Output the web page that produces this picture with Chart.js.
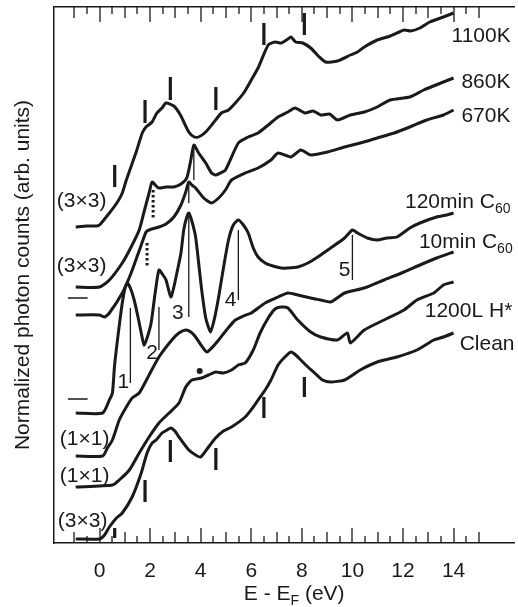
<!DOCTYPE html>
<html>
<head>
<meta charset="utf-8">
<script src="https://cdn.jsdelivr.net/npm/chart.js@4.4.0/dist/chart.umd.min.js"></script>
<style>
  html, body { margin: 0; padding: 0; background: #fff; }
  #wrap { width: 518px; height: 607px; position: relative; }
</style>
</head>
<body>
<div id="wrap"><canvas id="spectraChart"></canvas></div>
<script>
// energies (eV, relative to E_F) and normalized counts (arb. units, stacked)
const e1100K = [-0.94,-0.5,-0.12,0,0.39,0.71,0.9,1.06,1.45,1.69,1.84,2.08,2.27,2.47,2.63,2.94,3.2,3.53,3.75,3.92,4.2,4.5,4.82,5.1,5.37,5.7,6.0,6.27,6.67,6.94,7.18,7.45,7.57,7.76,8.04,8.35,8.65,8.94,9.41,9.92,10.2,10.47,10.98,11.5,12.04,12.3,12.67,13.06,13.6,14.0];
const c1100K = [316,317,317,318,330,341,350,363,391,410,416,421,430,435,440,437,428,411,406,406,411,420,430,433,440,450,463,475,498,501,500,504,506,501,500,495,487,481,482,488,491,496,503,507,513,512,515,521,526,530];

const e860K = [-0.94,0,0.39,0.9,1.25,1.57,1.76,1.96,2.08,2.24,2.35,2.63,2.94,3.22,3.45,3.61,3.73,3.92,4.2,4.43,4.59,4.78,4.98,5.49,5.88,6.27,6.67,7.06,7.45,7.73,8.12,8.45,8.75,9.1,9.41,9.92,10.47,10.98,11.49,12.27,12.82,13.6,14.0];
const c860K = [256,256,263,280,296,313,331,350,361,357,355,356,356,359,365,383,398,390,380,370,368,370,373,400,406,410,418,426,431,435,430,432,428,429,423,428,431,436,443,446,453,461,465];

const e670K = [-0.94,0,0.2,0.39,0.9,1.25,1.65,1.84,1.96,2.35,2.63,2.94,3.22,3.41,3.53,3.65,3.8,4.12,4.43,4.71,4.98,5.22,5.76,6.27,6.78,7.06,7.57,7.96,8.35,9.02,9.69,10.31,10.98,11.65,12.27,12.94,13.6,14.0];
const c670K = [228,228,226,230,250,270,298,311,313,316,319,326,338,351,361,358,355,345,340,345,353,363,370,375,383,390,386,393,388,391,396,400,405,410,416,423,428,433];

const e120min = [-0.94,0.12,0.39,0.51,0.59,0.71,0.9,1.02,1.1,1.22,1.37,1.53,1.65,1.76,1.88,2.04,2.2,2.35,2.51,2.63,2.82,2.94,3.06,3.22,3.33,3.45,3.53,3.65,3.8,3.92,4.04,4.2,4.39,4.55,4.71,4.9,5.1,5.29,5.49,5.69,5.88,6.08,6.27,6.55,6.86,7.18,7.45,7.84,8.24,8.63,9.14,9.69,10.0,10.2,10.59,10.98,11.37,11.76,12.27,12.67,13.33,13.73,14.0];
const c120min = [130,130,143,150,176,203,240,256,260,255,243,225,210,198,205,220,250,273,268,263,246,256,270,290,313,326,330,322,306,280,253,225,211,225,246,275,303,318,323,318,310,295,286,280,277,275,275,276,280,286,295,305,313,310,305,303,305,306,315,320,326,328,330];

const e10min = [-0.94,0.12,0.31,0.51,0.78,1.06,1.29,1.57,1.96,2.35,2.86,3.14,3.41,3.61,3.8,4.04,4.24,4.47,4.71,5.02,5.37,5.69,6.0,6.55,7.06,7.45,7.84,8.35,8.75,9.14,9.69,10.47,11.25,12.04,12.67,13.33,14.0];
const c10min = [87,87,95,103,123,136,145,150,168,186,203,210,213,211,206,197,191,196,203,213,223,227,230,240,246,250,248,245,243,241,250,255,263,271,278,285,291];

const e1200L = [-0.94,0.51,0.78,1.18,1.57,1.96,2.35,2.75,3.14,3.41,3.65,4.04,4.31,4.59,4.9,5.22,5.49,5.76,6.08,6.35,6.67,6.94,7.18,7.45,7.84,8.35,8.75,9.41,9.8,9.92,10.47,11.25,12.04,12.55,13.22,13.6,14.0];
const c1200L = [56,58,63,73,90,106,120,130,140,156,163,165,168,171,170,173,178,180,193,210,225,234,236,235,223,211,206,203,210,200,213,223,233,243,250,258,261];

const eClean = [-0.94,0,0.2,0.39,0.67,0.9,1.29,1.65,1.88,2.08,2.24,2.47,2.67,2.82,2.98,3.14,3.53,3.8,4.0,4.31,4.59,4.9,5.22,5.76,6.08,6.27,6.55,6.78,7.06,7.33,7.57,7.76,7.96,8.24,8.51,8.82,9.14,9.69,10.31,10.98,11.76,12.55,13.22,13.6,14.0];
const cClean = [4,4,8,16,25,30,46,70,90,100,103,110,113,115,112,106,93,88,86,96,105,112,116,126,136,143,153,163,178,186,191,188,183,176,170,163,161,163,173,181,186,193,203,206,210];

const curveNames = ['1100K', '860K', '670K', '120min C60', '10min C60', '1200L H*', 'Clean'];

// feature markers (thick bars) for 1100K and Clean
const markerEnergies = [0.6, 1.8, 2.8, 4.6, 6.5, 8.1];
const markerTop1100K = [[356,378],[420,443],[443,466],[433,456],[498,520],[508,530]];
const markerClean = [[5,15],[41,63],[81,103],[73,95],[125,146],[146,166]];

// thin peak lines: [energy, from, to]
const peakLines = [[3.73,396,363],[3.53,358,340],[1.22,235,160],[2.35,236,193],[3.53,330,226],[5.49,313,243],[10.0,308,263]];
const peakNumbers = ['1','2','3','4','5'];
const peakNumberAt = [[0.94,161],[2.08,190],[3.1,230],[5.18,243],[9.69,273]];

// dotted markers on the (3x3) shoulders
const dottedLines = [[2.12,353,325],[1.88,300,275]];

// small dashes at the left, and the dot on the 1200L H* curve
const zeroDashes = [[-1.25,-0.47,245],[-1.25,-0.47,144]];
const dotAt = [3.96,172];

const tickLabels = [0, 2, 4, 6, 8, 10, 12, 14];

const rightLabels = [
  { text: '1100K', e: 13.92, c: 501 },
  { text: '860K', e: 14.31, c: 455 },
  { text: '670K', e: 14.31, c: 421 },
  { text: '120min C', sub: '60', e: 12.08, c: 335 },
  { text: '10min C', sub: '60', e: 12.63, c: 295 },
  { text: '1200L H*', e: 12.86, c: 226 },
  { text: 'Clean', e: 14.24, c: 193 }
];
const leftLabels = [
  { text: '(3\u00d73)', e: -1.69, c: 336 },
  { text: '(3\u00d73)', e: -1.69, c: 271 },
  { text: '(1\u00d71)', e: -1.57, c: 98 },
  { text: '(1\u00d71)', e: -1.57, c: 61 },
  { text: '(3\u00d73)', e: -1.65, c: 16 }
];

const FONT = 'Arial, "Liberation Sans", Helvetica, sans-serif';
const INK = '#1a1a1a';

function toPoints(es, cs) {
  return es.map((e, i) => ({ x: e, y: cs[i] }));
}

function segments(list) {
  // list of [x1, y1, x2, y2], separated by gaps
  const out = [];
  list.forEach(s => {
    out.push({ x: s[0], y: s[1] });
    out.push({ x: s[2], y: s[3] });
    out.push({ x: s[2], y: null });
  });
  return out;
}

const curves = [
  toPoints(e1100K, c1100K), toPoints(e860K, c860K), toPoints(e670K, c670K),
  toPoints(e120min, c120min), toPoints(e10min, c10min), toPoints(e1200L, c1200L),
  toPoints(eClean, cClean)
];

const datasets = curves.map((pts, i) => ({
  label: curveNames[i],
  data: pts,
  borderColor: INK,
  borderWidth: 3,
  pointRadius: 0,
  tension: 0.2,
  fill: false
}));

const thick = [];
markerEnergies.forEach((e, i) => {
  thick.push([e, markerTop1100K[i][0], e, markerTop1100K[i][1]]);
  thick.push([e, markerClean[i][0], e, markerClean[i][1]]);
});
datasets.push({ label: 'markers', data: segments(thick), borderColor: INK, borderWidth: 3.2, pointRadius: 0, spanGaps: false });
datasets.push({ label: 'peaks', data: segments(peakLines.map(p => [p[0], p[1], p[0], p[2]])), borderColor: INK, borderWidth: 1.3, pointRadius: 0, spanGaps: false });
datasets.push({ label: 'dotted', data: segments(dottedLines.map(p => [p[0], p[1], p[0], p[2]])), borderColor: INK, borderWidth: 3, borderDash: [2.5, 2.5], pointRadius: 0, spanGaps: false });
datasets.push({ label: 'dashes', data: segments(zeroDashes.map(d => [d[0], d[2], d[1], d[2]])), borderColor: INK, borderWidth: 1.3, pointRadius: 0, spanGaps: false });
datasets.push({ label: 'dot', data: [{ x: dotAt[0], y: dotAt[1] }], showLine: false, pointRadius: 3, pointBackgroundColor: INK, pointBorderWidth: 0 });

// inner tick marks on the top and bottom axes + all the text
const decorations = {
  id: 'decorations',
  afterDraw(chart) {
    const ctx = chart.ctx;
    const xs = chart.scales.x;
    const ys = chart.scales.y;
    const top = ys.getPixelForValue(ys.max);
    const bottom = ys.getPixelForValue(ys.min);
    ctx.save();
    ctx.setLineDash([]);
    ctx.fillStyle = INK;
    for (let k = -2; k <= 30; k++) {
      const v = k / 2;
      const px = Math.round(xs.getPixelForValue(v));
      let len = 7;
      if (k % 4 === 0) len = 15;
      else if (k % 2 === 0) len = 11;
      ctx.fillRect(px - 0.65, bottom - len, 1.3, len);
      ctx.fillRect(px - 0.65, top, 1.3, len);
    }

    ctx.textBaseline = 'alphabetic';
    ctx.textAlign = 'left';
    const big = '21px ' + FONT;
    const small = '14px ' + FONT;
    rightLabels.concat(leftLabels).forEach(l => {
      const px = xs.getPixelForValue(l.e);
      const py = ys.getPixelForValue(l.c);
      ctx.font = big;
      ctx.fillText(l.text, px, py);
      if (l.sub) {
        const w = ctx.measureText(l.text).width;
        ctx.font = small;
        ctx.fillText(l.sub, px + w, py + 5);
      }
    });

    ctx.font = big;
    ctx.textAlign = 'center';
    ctx.textBaseline = 'middle';
    peakNumbers.forEach((n, i) => {
      ctx.fillText(n, xs.getPixelForValue(peakNumberAt[i][0]), ys.getPixelForValue(peakNumberAt[i][1]));
    });

    // x axis title with subscript
    const parts = [['E - E', big, 0], ['F', small, 5], [' (eV)', big, 0]];
    let total = 0;
    parts.forEach(p => { ctx.font = p[1]; total += ctx.measureText(p[0]).width; });
    let x0 = xs.getPixelForValue(7.7) - total / 2;
    ctx.textAlign = 'left';
    ctx.textBaseline = 'alphabetic';
    parts.forEach(p => {
      ctx.font = p[1];
      ctx.fillText(p[0], x0, 600 + p[2]);
      x0 += ctx.measureText(p[0]).width;
    });
    ctx.restore();
  }
};

const xMin = -1.8, xMax = 16.39;

new Chart(document.getElementById('spectraChart'), {
  type: 'line',
  data: { datasets: datasets },
  options: {
    responsive: true,
    maintainAspectRatio: false,
    animation: false,
    devicePixelRatio: 1,
    layout: { padding: 0 },
    plugins: { legend: { display: false }, tooltip: { enabled: false } },
    scales: {
      x: {
        type: 'linear',
        position: 'bottom',
        min: xMin,
        max: xMax,
        afterBuildTicks: axis => { axis.ticks = tickLabels.map(v => ({ value: v })); },
        afterFit: axis => { axis.height = 64; },
        grid: { display: false },
        border: { display: true, color: INK, width: 1.5 },
        ticks: { color: INK, padding: 8, maxRotation: 0, font: { family: FONT, size: 21 } }
      },
      x2: {
        type: 'linear',
        position: 'top',
        min: xMin,
        max: xMax,
        afterFit: axis => { axis.height = 7; },
        grid: { display: false },
        border: { display: true, color: INK, width: 1.5 },
        ticks: { display: false }
      },
      y: {
        type: 'linear',
        min: 0,
        max: 536,
        afterFit: axis => { axis.width = 54; },
        grid: { display: false },
        border: { display: true, color: INK, width: 1.5 },
        ticks: { display: false },
        title: {
          display: true,
          text: 'Normalized photon counts (arb. units)',
          color: INK,
          padding: { top: 11, bottom: 0 },
          font: { family: FONT, size: 21, weight: 'normal' }
        }
      }
    }
  },
  plugins: [decorations]
});
</script>
</body>
</html>
